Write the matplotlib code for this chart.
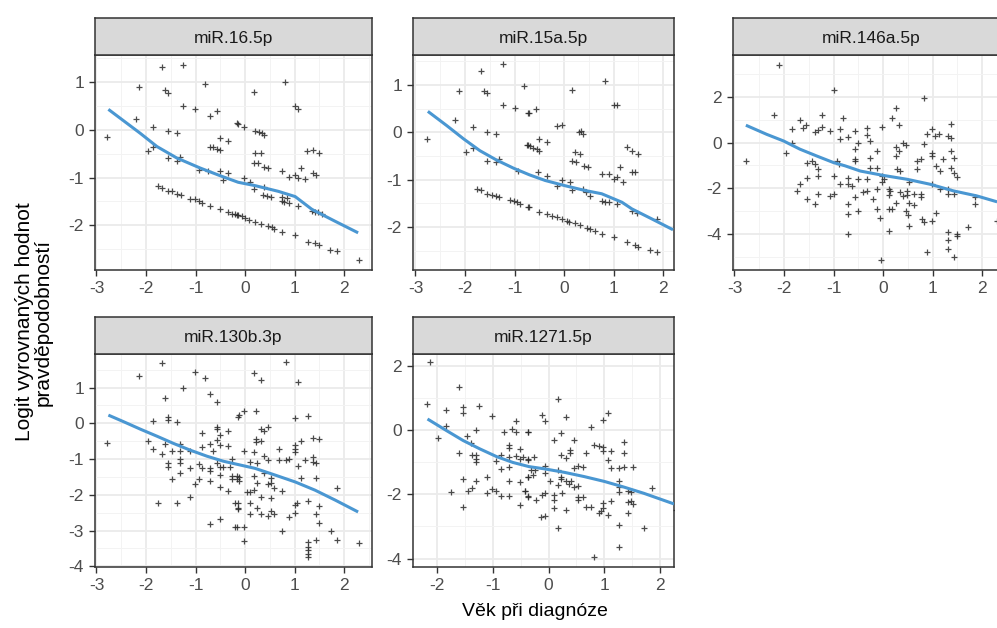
import numpy as np
import matplotlib
matplotlib.use("Agg")
import matplotlib.pyplot as plt
from matplotlib.ticker import MultipleLocator

plt.rcParams["font.family"] = ["Liberation Sans", "DejaVu Sans"]

W, H = 997, 628

# ---------------- data ----------------
titles = ["miR.16.5p", "miR.15a.5p", "miR.146a.5p", "miR.130b.3p", "miR.1271.5p"]

p1_x = [-2.78, -2.14, -1.68, -1.25, -2.21, -1.85, -1.97, -1.85, -1.62, -1.55, -1.55, -1.38, -1.25,
        -1.55, -1.38, -1.31, -1.01, -0.81, -0.71, -0.57, -0.15, -0.51, -0.34, -0.71, -0.64, -0.57,
        -0.51, -0.94, -0.74, -0.51, -0.34, -0.44,
        -1.75, -1.68, -1.55, -1.48, -1.37, -1.30, -1.11, -1.01, -0.94, -0.87, -0.71, -0.51, -0.34,
        -0.27, -0.20, -0.14,
        0.81, 0.17, 1.01, 1.06, -0.17, -0.03, 0.20, 0.27, 0.34, 0.39, 1.25, 1.36, 1.49, 0.20, 0.32,
        0.17, 0.26, 0.39, 0.46, 0.75, 1.13, 0.89, 1.00, 1.06, 1.20, 1.36, 1.43, -0.03, 0.10, 0.17,
        0.39, 0.37, 0.44, 0.53, 0.74, 0.84, 0.74, 0.79, 0.89, 1.06, 1.35, 1.41, 1.48, 1.56,
        -0.17, -0.07, 0.00, 0.08, 0.20, 0.32, 0.46, 0.54, 0.59, 0.75, 1.00, 1.27, 1.41, 1.49, 1.72,
        1.85, 2.29]
p1_y = [-0.14, 0.89, 1.31, 1.35, 0.23, 0.06, -0.45, -0.35, 0.84, 0.78, -0.03, -0.07, 0.51,
        -0.59, -0.66, -0.56, 0.44, 0.96, 0.30, 0.40, 0.13, -0.17, -0.24, -0.35, -0.37, -0.40,
        -0.42, -0.85, -0.87, -0.87, -0.91, -1.05,
        -1.17, -1.21, -1.29, -1.29, -1.34, -1.36, -1.45, -1.46, -1.50, -1.53, -1.59, -1.66, -1.73,
        -1.76, -1.76, -1.78,
        1.00, 0.79, 0.49, 0.44, 0.14, 0.06, -0.02, -0.04, -0.06, -0.10, -0.45, -0.42, -0.49, -0.49,
        -0.49, -0.70, -0.70, -0.77, -0.80, -0.86, -0.80, -0.98, -0.94, -1.01, -1.03, -0.91, -0.94,
        -1.00, -1.10, -1.24, -1.19, -1.36, -1.38, -1.40, -1.40, -1.43, -1.50, -1.52, -1.53, -1.59,
        -1.71, -1.73, -1.73, -1.76,
        -1.78, -1.81, -1.85, -1.90, -1.94, -1.97, -2.02, -2.04, -2.08, -2.15, -2.20, -2.36, -2.37,
        -2.41, -2.51, -2.55, -2.73]
p1_cx = [-2.76, -2.12, -1.78, -1.38, -0.91, -0.51, -0.14, 0.20, 0.67, 1.01, 1.35, 1.82, 2.28]
p1_cy = [0.43, -0.07, -0.35, -0.59, -0.80, -0.96, -1.10, -1.17, -1.29, -1.40, -1.67, -1.92, -2.16]

p2_x = [-2.77, -2.12, -1.68, -1.24, -2.20, -1.84, -1.98, -1.84, -1.62, -1.55, -1.55, -1.38, -1.24,
        -1.55, -1.38, -1.31, -1.00, -0.81, -0.72, -0.72, -0.92,
        -1.75, -1.68, -1.55, -1.46, -1.37, -1.31, -1.09, -1.02, -0.96, -0.89, -0.72,
        0.83, 0.16, 1.00, 1.06, -0.71, -0.57, -0.15, -0.05, 0.30, 0.34, 0.39, 1.27, 1.37, 1.50,
        -0.51, -0.34, -0.75, -0.69, -0.62, -0.55, -0.51, 0.22, 0.32, 0.17, 0.24, 0.41, 0.48, 1.13,
        0.76, 0.90, 1.37, 1.43, 1.00, 1.06, 1.20, -0.52, -0.35, -0.05, 0.12, 0.16, -0.15, 0.39,
        0.44, 0.53, 0.76, 0.83, 0.90, 1.06, 1.37, 1.47, 1.87,
        -0.71, -0.51, -0.34, -0.25, -0.15, -0.05, 0.05, 0.09, 0.22, 0.32, 0.46, 0.53, 0.63, 0.76,
        1.00, 1.27, 1.43, 1.50, 1.74, 1.87]
p2_y = [-0.14, 0.87, 1.29, 1.43, 0.25, 0.11, -0.42, -0.34, 0.87, 0.83, 0.00, -0.04, 0.58,
        -0.60, -0.63, -0.56, 0.51, 0.97, 0.41, -0.28, -0.81,
        -1.20, -1.22, -1.30, -1.32, -1.34, -1.36, -1.43, -1.46, -1.48, -1.52, -1.59,
        1.08, 0.90, 0.58, 0.58, 0.41, 0.48, 0.13, 0.16, 0.00, 0.03, -0.04, -0.32, -0.39, -0.46,
        -0.14, -0.21, -0.28, -0.30, -0.33, -0.35, -0.39, -0.42, -0.46, -0.60, -0.63, -0.71, -0.74,
        -0.74, -0.88, -0.88, -0.85, -0.85, -0.99, -0.95, -1.06, -0.85, -0.92, -1.02, -1.06, -1.23,
        -1.13, -1.20, -1.27, -1.34, -1.45, -1.48, -1.48, -1.52, -1.66, -1.71, -1.83,
        -1.59, -1.69, -1.73, -1.76, -1.80, -1.83, -1.87, -1.89, -1.92, -1.96, -2.03, -2.05, -2.08,
        -2.14, -2.21, -2.31, -2.38, -2.42, -2.49, -2.52]
p2_cx = [-2.75, -2.37, -2.03, -1.70, -1.36, -1.02, -0.70, -0.38, 0.02, 0.42, 0.76, 1.17, 1.37, 1.77, 2.20]
p2_cy = [0.44, 0.14, -0.14, -0.39, -0.59, -0.76, -0.90, -1.02, -1.13, -1.23, -1.30, -1.48, -1.62, -1.83, -2.06]

p3_x = [-2.77, -2.11, -2.20, -1.84, -1.84, -1.97, -1.68, -1.62, -1.56, -1.37, -1.31, -1.24, -1.24,
        -1.07, -1.00, -0.87, -0.81, -0.87, -1.54, -1.44, -1.37, -1.31, -1.31, -1.54, -1.68, -1.74,
        -1.54, -1.37, -1.31, -1.07, -1.00, -1.00, -0.87, -0.94, -0.90,
        -0.70, -0.57, -0.57, -0.50, -0.33, -0.33, -0.26, -0.57, -0.57, -0.26, -0.13, -0.03, 0.18,
        0.26, 0.33, 0.26, 0.26, 0.33, 0.40, 0.46, -0.70, -0.70, -0.63, -0.50, -0.33, -0.26, -0.13,
        -0.03, 0.01, -0.03, 0.28, 0.34, -0.40, -0.33, -0.57, -0.13, -0.70, -0.70, -0.50, -0.20,
        0.11, 0.14, 0.11, 0.34, 0.41, 0.48, 0.48, -0.13, 0.11, 0.18, 0.26, -0.06, 0.11, -0.70,
        -0.04, 0.53, 0.63, 0.46, 0.51, 0.53, 0.63, 0.76, 0.76, 0.53, 0.69, 0.76, 0.69, 0.83, 0.83,
        0.89, 0.98, 1.05, 1.12, 0.98, 0.98, 1.07, 1.14, 0.98, 1.14, 0.78, 0.82, 0.98, 1.07, 0.89,
        1.21, 1.30, 1.37, 1.37, 1.37, 1.43, 1.37, 1.43, 1.50, 1.30, 1.30, 1.43, 1.30, 1.30, 1.30,
        1.49, 1.49, 1.43, 1.72, 1.86, 1.86, 2.30]
p3_y = [-0.81, 3.40, 1.21, 0.58, -0.03, -0.47, 0.99, 0.63, 0.76, 0.48, 0.54, 0.70, 1.21,
        0.51, 2.31, 0.58, 1.07, 0.14, -0.88, -0.81, -0.95, -1.17, -1.46, -1.54, -1.83, -2.12,
        -2.46, -2.68, -2.27, -2.34, -2.27, -1.46, -1.83, -0.81, -0.95,
        0.26, 0.51, -0.29, -0.03, 0.63, 0.33, 0.07, -0.73, -0.81, -0.66, -0.37, 0.70, 1.07,
        1.50, 0.77, -0.18, -0.61, -0.37, -0.03, -0.11, -1.54, -1.83, -1.90, -1.61, -1.61, -1.10,
        -1.10, -1.46, -1.61, -1.73, -1.17, -1.25, -2.19, -2.12, -2.41, -2.05, -2.71, -3.14,
        -3.00, -2.49, -2.05, -2.12, -2.31, -2.19, -2.34, -2.12, -2.31, -2.93, -2.93, -2.93,
        -2.63, -3.29, -3.88, -3.99, -5.15, -2.63, -2.75, -3.00, -3.19, -3.68, -2.27, -2.27,
        -2.37, -1.75, -1.17, -0.73, -0.82, -0.07, 1.97, 0.36, 0.58, 0.29, 0.36, -0.44, -0.59,
        -1.03, -1.25, -1.83, -2.05, -3.36, -3.48, -3.44, -3.07, -4.80, -0.73, 0.29, 0.22, 0.80,
        -0.37, -0.66, -1.10, -1.32, -1.49, -2.05, -2.27, -2.27, -3.92, -4.29, -4.65, -3.99,
        -4.12, -5.00, -3.70, -2.41, -2.71, -3.44]
p3_cx = [-2.77, -2.35, -2.01, -1.68, -1.34, -1.00, -0.77, -0.46, 0.00, 0.48, 0.95, 1.42, 1.89, 2.30]
p3_cy = [0.76, 0.36, 0.07, -0.29, -0.59, -0.88, -1.02, -1.25, -1.44, -1.61, -1.83, -2.12, -2.34, -2.60]

p4_x = [-2.78, -2.14, -1.68, -1.62, -1.85, -1.55, -1.55, -1.38, -1.25, -1.01, -0.81, -0.71, -0.57,
        -0.15, -1.97, -1.85, -1.68, -1.62, -1.48, -1.31, -1.31, -1.55, -1.55, -1.31, -1.31, -1.31,
        -1.48, -1.11, -1.11, -0.87, -0.87, -0.94, -0.87, -0.94, -1.01, -0.71, -0.71, -0.71, -0.71,
        -0.64, -0.57, -0.57, -0.57, -0.51, -0.51, -0.34, -0.34, -0.57, -0.51, -0.44, -0.30, -0.27,
        -0.51, -0.27, -0.27, -0.17, -0.17, -0.51, -0.34, -1.11, -1.75, -1.38, -0.20, -0.15, -0.71,
        -0.51, -0.20,
        0.82, 0.17, 0.32, 1.06, -0.13, -0.03, 0.22, 1.00, 1.27, 0.32, 0.39, 0.46, 0.22, 0.22, 0.32,
        1.13, 1.36, 1.49, 1.00, 1.00, 1.00, -0.03, 0.17, 0.69, 0.39, 0.46, 0.69, 0.82, 0.89, 1.20,
        1.36, 1.36, 1.43, 1.06, 0.10, 0.24, -0.13, -0.13, 0.17, 0.24, 0.39, 0.53, 0.46, 0.53, 0.59,
        0.03, 0.10, 0.17, 0.32, 0.53, 0.75, 1.13, 1.43, 1.85, 1.00, 1.04, 1.27, 1.49, -0.15, -0.15,
        0.10, 0.10, 0.24, 0.32, 0.46, 0.53, 0.59, 0.89, 1.00, 1.43, 1.49, -0.17, -0.03, 0.75,
        -0.03, 1.27, 1.43, 1.27, 1.27, 1.27, 1.27, 1.74, 1.85, 2.29]
p4_y = [-0.54, 1.33, 1.68, 0.70, 0.06, 0.19, 0.09, 0.05, 1.00, 1.45, 1.26, 0.81, 0.61,
        0.19, -0.49, -0.73, -0.87, -0.59, -0.78, -0.78, -0.59, -1.10, -1.23, -1.01, -1.10, -1.39,
        -1.57, -0.78, -1.26, -0.26, -0.66, -1.14, -1.26, -1.56, -1.70, -0.59, -1.26, -1.34, -1.61,
        -0.78, -0.47, -0.17, -0.09, -0.33, -0.61, -0.22, -0.64, -1.12, -1.22, -1.23, -1.23, -1.01,
        -1.45, -1.48, -1.57, -1.48, -1.57, -1.78, -1.89, -2.06, -2.23, -2.23, -2.23, -2.38, -2.81,
        -2.69, -2.90,
        1.73, 1.40, 1.21, 1.17, 0.23, 0.35, 0.35, 0.14, 0.20, -0.17, -0.22, -0.09, -0.45, -0.52,
        -0.49, -0.49, -0.42, -0.45, -0.61, -0.73, -0.80, -0.77, -0.80, -0.73, -0.92, -1.03, -1.03,
        -1.03, -0.99, -1.03, -0.95, -1.08, -1.10, -1.20, -1.09, -1.10, -1.50, -1.61, -1.48, -1.67,
        -1.39, -1.52, -1.70, -1.68, -1.82, -1.92, -1.92, -1.87, -2.06, -2.10, -1.89, -1.54, -1.52,
        -1.80, -2.29, -2.23, -2.17, -2.30, -2.24, -2.41, -2.23, -2.54, -2.36, -2.54, -2.60, -2.45,
        -2.54, -2.62, -2.52, -2.54, -2.78, -2.90, -2.90, -3.01, -3.29, -3.32, -3.27, -3.46, -3.55,
        -3.65, -3.74, -3.01, -3.27, -3.34]
p4_cx = [-2.76, -2.46, -2.12, -1.78, -1.45, -1.11, -0.77, -0.44, -0.12, 0.20, 0.61, 1.01, 1.41, 1.82, 2.28]
p4_cy = [0.23, 0.05, -0.16, -0.36, -0.56, -0.75, -0.92, -1.06, -1.16, -1.26, -1.45, -1.64, -1.87, -2.15, -2.48]

p5_x = [-2.13, -2.18, -1.99, -1.83, -1.84, -1.60, -1.54, -1.54, -1.24, -1.60, -1.46, -1.39, -1.30,
        -1.38, -1.30, -1.30, -1.30, -1.01, -1.54, -1.75, -1.54, -1.44, -1.38, -1.30, -1.10, -1.10,
        -1.01, -0.95, -0.86, -0.71, -0.95, -0.86, -0.86, -0.80, -0.71, -0.71, -0.71, -0.71, -0.71,
        -0.65, -0.58, -0.58, -0.58, -0.52, -0.52, -0.46, -0.52, -0.52, -0.42, -0.37, -0.37, -0.37,
        -0.37,
        0.17, -0.12, -0.06, 0.32, -0.36, 0.23, 0.09, 0.46, 0.76, 0.97, 1.06, 0.82, 0.91, 0.97, 0.97,
        1.12, 1.36, 1.36, 0.67, 0.23, 0.32, 0.38, 0.38, -0.36, -0.26, 1.06, 0.46, 0.52, 0.61, 1.12,
        1.27, 1.36, 1.51, -0.31, -0.25, -0.07, -0.07, -0.36, -0.28, 0.17, 0.23, 0.23, 0.32, 0.36,
        0.41, 0.17, 0.46, 0.52, 0.02, 1.27, 1.27, 1.27, 1.42, 1.48, 1.48, 1.51, 1.42, 1.42, 1.86,
        -0.43, -0.36, -0.22, -0.12, -0.06, 0.09, 0.09, 0.09, 0.24, 0.52, 0.52, 0.61, -0.13, -0.07,
        0.32, 0.67, 0.76, 0.91, 0.94, 0.97, 0.97, 1.06, 1.12, 0.17, 1.27, 1.71, 1.27, 0.82, 2.29]
p5_y = [2.10, 0.81, -0.26, 0.62, 0.13, 1.32, 0.70, 0.52, 0.73, -0.73, -0.18, -0.42, 0.00,
        -0.77, -0.77, -0.90, -1.01, 0.44, -1.54, -1.92, -2.40, -1.91, -1.80, -1.60, -1.45, -1.97,
        -1.83, -1.91, -2.06, -2.06, -0.98, -0.78, -1.21, -0.05, -0.47, -0.57, -0.85, -1.16, -1.60,
        0.03, 0.29, -0.07, -0.80, -0.59, -0.90, -0.85, -1.61, -2.32, -1.91, -2.06, -0.05, -0.90,
        -1.45,
        0.96, 0.47, 0.29, 0.39, -0.05, -0.10, -0.31, -0.31, 0.08, 0.31, 0.52, -0.47, -0.49, -0.54,
        -0.64, -0.66, -0.36, -0.73, -0.73, -0.78, -0.88, -0.62, -0.73, -0.93, -0.83, -0.93, -1.18,
        -1.11, -1.14, -1.18, -1.18, -1.14, -1.14, -1.26, -1.26, -1.11, -1.35, -1.45, -1.39, -1.26,
        -1.52, -1.45, -1.60, -1.68, -1.58, -1.70, -1.78, -1.73, -1.60, -1.60, -1.78, -1.94, -1.89,
        -1.94, -2.20, -2.30, -2.25, -2.59, -1.80, -1.89, -2.09, -2.17, -2.01, -1.97, -2.01, -2.17,
        -2.42, -1.97, -2.09, -2.17, -2.09, -2.71, -2.66, -2.48, -2.40, -2.40, -2.58, -2.51, -2.43,
        -2.28, -2.63, -2.22, -3.04, -2.97, -3.04, -3.65, -3.96, -2.50]
p5_cx = [-2.17, -1.83, -1.53, -1.23, -0.93, -0.64, -0.35, -0.07, 0.29, 0.64, 1.00, 1.36, 1.71, 2.25]
p5_cy = [0.34, -0.02, -0.33, -0.59, -0.83, -1.01, -1.14, -1.21, -1.32, -1.45, -1.60, -1.78, -1.97, -2.30]

xs = [p1_x, p2_x, p3_x, p4_x, p5_x]
ys = [p1_y, p2_y, p3_y, p4_y, p5_y]
cxs = [p1_cx, p2_cx, p3_cx, p4_cx, p5_cx]
cys = [p1_cy, p2_cy, p3_cy, p4_cy, p5_cy]

# ---------------- layout (pixel boxes: left, top, right, bottom) ----------------
boxes = [(95, 55, 372, 270), (413, 55, 674, 270), (733, 55, 1010, 270),
         (95, 354, 372, 567), (413, 354, 674, 567)]
xlims = [(-3.03, 2.56), (-3.05, 2.22), (-3.03, 2.56), (-3.03, 2.56), (-2.43, 2.25)]
ylims = [(-2.94, 1.57), (-2.91, 1.63), (-5.59, 3.84), (-4.02, 1.94), (-4.26, 2.36)]
ysteps = [1, 1, 2, 1, 2]
strip_h = 37

fig = plt.figure(figsize=(W / 100, H / 100), dpi=100)
fig.patch.set_facecolor("white")

for i in range(5):
    l, t, r, b = boxes[i]
    ax = fig.add_axes([l / W, 1 - b / H, (r - l) / W, (b - t) / H])
    ax.set_facecolor("white")
    ax.plot(xs[i], ys[i], "+", color="#2b2b2b", ms=4.5, mew=0.9, alpha=0.85, zorder=3)
    ax.plot(cxs[i], cys[i], "-", color="#4A97D2", lw=2.2, zorder=4, solid_capstyle="butt")
    ax.set_xlim(*xlims[i])
    ax.set_ylim(*ylims[i])
    ax.xaxis.set_major_locator(MultipleLocator(1))
    ax.xaxis.set_minor_locator(MultipleLocator(0.5))
    ax.yaxis.set_major_locator(MultipleLocator(ysteps[i]))
    ax.yaxis.set_minor_locator(MultipleLocator(ysteps[i] / 2))
    ax.grid(which="major", color="#EBEBEB", lw=1.3, zorder=0)
    ax.grid(which="minor", color="#F3F3F3", lw=0.7, zorder=0)
    ax.set_axisbelow(True)
    for s in ax.spines.values():
        s.set_color("#333333")
        s.set_linewidth(1.1)
    ax.tick_params(which="major", length=4, width=1.0, color="#333333",
                   labelsize=12.5, labelcolor="#4D4D4D", pad=4)
    ax.tick_params(which="minor", length=0)
    ax.set_xticklabels([str(int(v)) if v == int(v) else "" for v in ax.get_xticks()])
    ax.set_yticklabels([str(int(v)) if v == int(v) else "" for v in ax.get_yticks()])

    # facet strip
    sax = fig.add_axes([l / W, 1 - t / H, (r - l) / W, strip_h / H])
    sax.set_facecolor("#D9D9D9")
    sax.set_xticks([])
    sax.set_yticks([])
    for s in sax.spines.values():
        s.set_color("#333333")
        s.set_linewidth(1.1)
    sax.text(0.5, 0.45, titles[i], ha="center", va="center", fontsize=12.5,
             color="#1A1A1A", transform=sax.transAxes)

fig.text(535 / W, 1 - 612 / H, "Věk při diagnóze", ha="center", va="center",
         fontsize=14, color="black")
fig.text(34 / W, 1 - 322 / H, "Logit vyrovnaných hodnot\npravděpodobností",
         ha="center", va="center", rotation=90, fontsize=15, color="black",
         multialignment="center", linespacing=1.0)

fig.savefig("out.png", dpi=100, facecolor="white")
